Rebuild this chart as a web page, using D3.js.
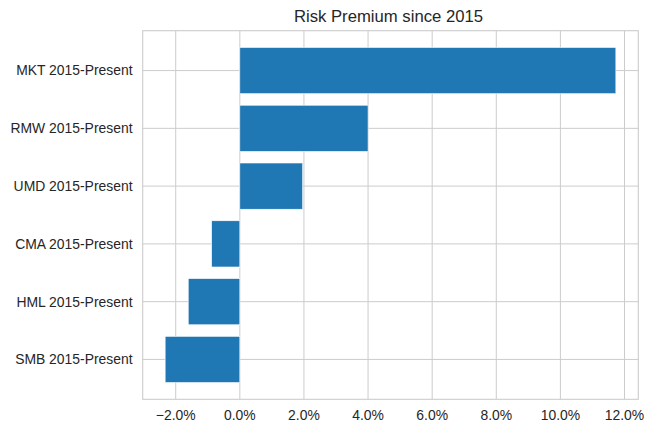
<!DOCTYPE html>
<html>
<head>
<meta charset="utf-8">
<script src="https://cdn.jsdelivr.net/npm/d3@7"></script>
<style>
  html, body { margin: 0; padding: 0; background: #fff; }
  svg { display: block; }
  text { font-family: "Liberation Sans", Arial, sans-serif; fill: #262626; }
</style>
</head>
<body>
<svg id="chart" width="651" height="431"></svg>
<script>
const categories = ["SMB 2015-Present", "HML 2015-Present", "CMA 2015-Present", "UMD 2015-Present", "RMW 2015-Present", "MKT 2015-Present"];
const values = [-2.33, -1.61, -0.88, 1.96, 4.0, 11.73];
const xTicks = [-2, 0, 2, 4, 6, 8, 10, 12];
const title = "Risk Premium since 2015";

const svg = d3.select("#chart");
const pL = 142.7, pR = 638.3, pT = 30.7, pB = 399.3;

const x = d3.scaleLinear().domain([-3.03, 12.43]).range([pL, pR]);
const y = d3.scaleLinear().domain([-0.69, 5.69]).range([pB, pT]);
const barH = 0.8;

// grid
svg.append("g").selectAll("line").data(xTicks).join("line")
  .attr("x1", d => x(d)).attr("x2", d => x(d))
  .attr("y1", pT).attr("y2", pB)
  .attr("stroke", "#cccccc").attr("stroke-width", 1);
svg.append("g").selectAll("line").data(categories).join("line")
  .attr("x1", pL).attr("x2", pR)
  .attr("y1", (d, i) => y(i)).attr("y2", (d, i) => y(i))
  .attr("stroke", "#cccccc").attr("stroke-width", 1);

// bars
svg.append("g").selectAll("rect").data(values).join("rect")
  .attr("x", d => Math.min(x(0), x(d)))
  .attr("width", d => Math.abs(x(d) - x(0)))
  .attr("y", (d, i) => y(i + barH / 2))
  .attr("height", (d, i) => y(i - barH / 2) - y(i + barH / 2))
  .attr("fill", "#1f77b4")
  .attr("stroke", "#ffffff").attr("stroke-width", 0.6);

// spines
svg.append("rect")
  .attr("x", pL).attr("y", pT)
  .attr("width", pR - pL).attr("height", pB - pT)
  .attr("fill", "none").attr("stroke", "#cccccc").attr("stroke-width", 1.1);

// x tick labels
const fmt = d => (d < 0 ? "\u2212" : "") + Math.abs(d).toFixed(1) + "%";
svg.append("g").selectAll("text").data(xTicks).join("text")
  .attr("x", d => x(d)).attr("y", 420)
  .attr("text-anchor", "middle")
  .attr("font-size", "13.9px")
  .text(fmt);

// y tick labels
svg.append("g").selectAll("text").data(categories).join("text")
  .attr("x", 132.5).attr("y", (d, i) => y(i))
  .attr("dy", "0.35em")
  .attr("text-anchor", "end")
  .attr("font-size", "13.9px")
  .text(d => d);

// title
svg.append("text")
  .attr("x", (pL + pR) / 2 - 2).attr("y", 22)
  .attr("text-anchor", "middle")
  .attr("font-size", "16.7px")
  .text(title);
</script>
</body>
</html>
